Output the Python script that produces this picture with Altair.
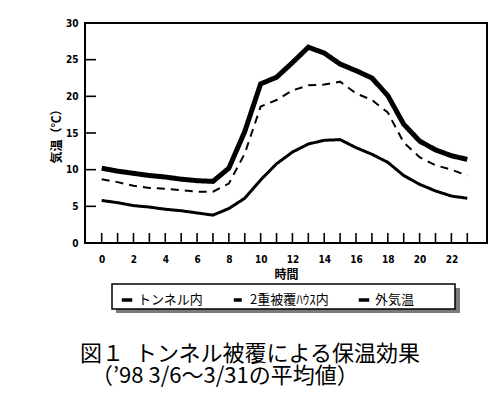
import altair as alt
import pandas as pd

hours = list(range(24))
series_names = ["トンネル内", "2重被覆ﾊｳｽ内", "外気温"]
tunnel = [10.2, 9.8, 9.5, 9.2, 9.0, 8.7, 8.5, 8.4, 10.2, 15.2, 21.7, 22.6,
          24.6, 26.7, 25.9, 24.4, 23.5, 22.5, 20.1, 16.2, 13.9, 12.7, 11.9, 11.4]
double_house = [8.7, 8.3, 7.8, 7.5, 7.4, 7.2, 7.0, 7.0, 8.1, 12.2, 18.6, 19.5,
                20.8, 21.5, 21.6, 22.0, 20.4, 19.5, 17.8, 13.7, 11.7, 10.6, 10.0, 9.2]
outside = [5.8, 5.5, 5.1, 4.9, 4.6, 4.4, 4.1, 3.8, 4.7, 6.1, 8.6, 10.8,
           12.4, 13.5, 14.0, 14.1, 13.0, 12.1, 11.0, 9.2, 8.0, 7.1, 6.4, 6.1]
line_widths = [5, 2, 3]
x_tick_hours = list(range(24))
x_label_hours = list(range(0, 24, 2))
y_tick_values = [5, 10, 15, 20, 25]
y_label_values = [0, 5, 10, 15, 20, 25, 30]
title_lines = ["図１\u2002トンネル被覆による保温効果", "\u200b\u2002（’98 3/6～3/31の平均値）"]

rows = []
for name, vals, w in zip(series_names, [tunnel, double_house, outside], line_widths):
    for h, v in zip(hours, vals):
        rows.append({"hour": h, "value": v, "series": name, "w": w})
df = pd.DataFrame(rows)

W, H = 402, 220
xscale = alt.Scale(domain=[-1.05, 24.24], nice=False, zero=False)
yscale = alt.Scale(domain=[0, 30], nice=False)

CJK = "Noto Sans CJK JP"
NUM = "DejaVu Sans Condensed"

x_axis = alt.Axis(orient="bottom", values=x_label_hours, title="時間", grid=False,
                  domain=False, ticks=False, tickSize=0, labelPadding=11,
                  labelOverlap=False, labelFlush=False, labelBound=False,
                  labelFont=NUM, labelFontWeight="bold", labelFontSize=10,
                  labelColor="black", titleFont=CJK, titleFontWeight="bold",
                  titleFontSize=12, titleColor="black", titleX=201, titleY=31,
                  titleBaseline="middle")
y_axis = alt.Axis(orient="left", values=y_label_values, title="気温（℃）", grid=False,
                  domain=False, ticks=False, tickSize=0, labelPadding=7,
                  labelOverlap=False, labelFlush=False, labelBound=False,
                  labelFont=NUM, labelFontWeight="bold", labelFontSize=10,
                  labelColor="black", titleFont=CJK, titleFontWeight="bold",
                  titleFontSize=12, titleColor="black", titleX=-29, titleY=110,
                  titleBaseline="middle", titleAlign="center")

lines = alt.Chart(df).mark_line(color="black", strokeCap="butt").encode(
    x=alt.X("hour:Q", scale=xscale, axis=x_axis),
    y=alt.Y("value:Q", scale=yscale, axis=y_axis),
    strokeDash=alt.StrokeDash(
        "series:N",
        scale=alt.Scale(domain=series_names, range=[[1, 0], [8, 6], [1, 0]]),
        legend=alt.Legend(
            title=None, orient="none", legendX=35, legendY=270, direction="horizontal",
            labelFont=CJK, labelFontSize=13, labelColor="black", symbolSize=110,
            labelOffset=4, columnPadding=22, padding=0, symbolType="stroke",
            symbolStrokeWidth=3.5, symbolStrokeColor="black",
        )),
    strokeWidth=alt.StrokeWidth("w:Q", scale=None, legend=None),
    detail="series:N",
)

xt = alt.Chart(pd.DataFrame({"hour": x_tick_hours})).mark_rule(color="black", strokeWidth=1.6).encode(
    x=alt.X("hour:Q", scale=xscale, axis=x_axis),
    y=alt.value(H - 10), y2=alt.value(H),
)
yt = alt.Chart(pd.DataFrame({"value": y_tick_values})).mark_rule(color="black", strokeWidth=1.6).encode(
    y=alt.Y("value:Q", scale=yscale, axis=y_axis),
    x=alt.value(0), x2=alt.value(11),
)
one = pd.DataFrame({"k": [0]})
shadow = alt.Chart(one).mark_rect(fill="#7a7a7a").encode(
    x=alt.value(31), x2=alt.value(375), y=alt.value(265), y2=alt.value(290),
)
box = alt.Chart(one).mark_rect(fill="white", stroke="black", strokeWidth=1.5).encode(
    x=alt.value(27), x2=alt.value(370), y=alt.value(261), y2=alt.value(286),
)

chart = alt.layer(lines, xt, yt, shadow, box).properties(
    width=W, height=H,
    padding={"left": 77, "top": 15, "right": 8, "bottom": 145},
    autosize=alt.AutoSizeParams(type="none"),
    title=alt.TitleParams(text=title_lines, orient="bottom", anchor="start", frame="group",
                          font=CJK, fontSize=22, fontWeight="normal", color="black",
                          lineHeight=22, offset=31, dx=-5),
).configure_view(stroke="black", strokeWidth=2).configure_axis(labelOverlap=False)

chart.save("out.html", embed_options={"renderer": "svg", "actions": False})
